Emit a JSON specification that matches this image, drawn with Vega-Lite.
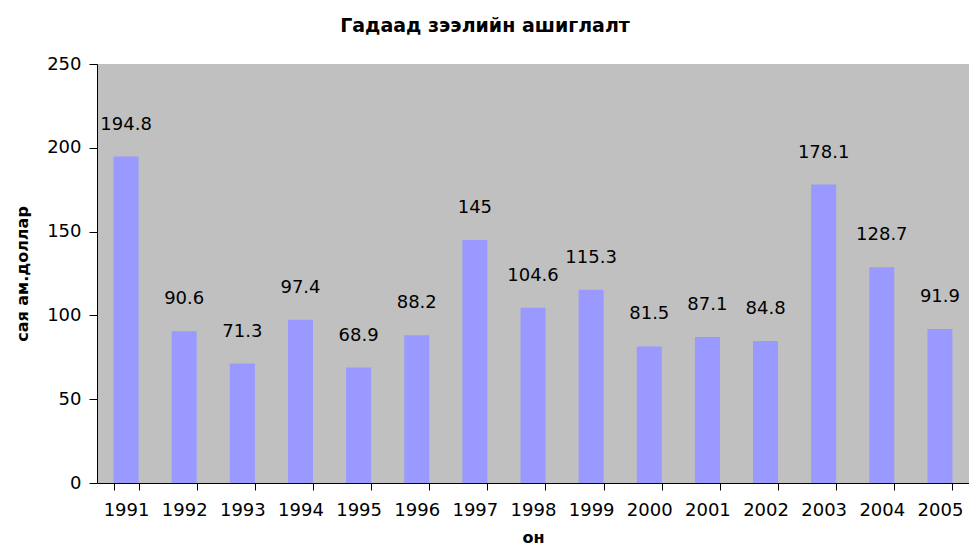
{
  "$schema": "https://vega.github.io/schema/vega-lite/v6.json",
  "autosize": {"type": "none"},
  "padding": {"left": 97, "top": 64, "right": 0, "bottom": 64},
  "width": 872,
  "height": 419,
  "background": "white",
  "config": {
    "view": {"fill": "#C0C0C0", "stroke": null},
    "font": "DejaVu Sans"
  },
  "title": {
    "text": "Гадаад зээлийн ашиглалт",
    "font": "DejaVu Sans",
    "fontSize": 19,
    "fontWeight": "bold",
    "color": "black",
    "anchor": "middle",
    "dx": -48,
    "offset": 19
  },
  "data": {
    "values": [
      {"year": "1991", "value": 194.8},
      {"year": "1992", "value": 90.6},
      {"year": "1993", "value": 71.3},
      {"year": "1994", "value": 97.4},
      {"year": "1995", "value": 68.9},
      {"year": "1996", "value": 88.2},
      {"year": "1997", "value": 145},
      {"year": "1998", "value": 104.6},
      {"year": "1999", "value": 115.3},
      {"year": "2000", "value": 81.5},
      {"year": "2001", "value": 87.1},
      {"year": "2002", "value": 84.8},
      {"year": "2003", "value": 178.1},
      {"year": "2004", "value": 128.7},
      {"year": "2005", "value": 91.9}
    ]
  },
  "encoding": {
    "x": {
      "field": "year",
      "type": "ordinal",
      "scale": {"paddingInner": 0.57, "paddingOuter": 0.285},
      "axis": {
        "title": "он",
        "titleFont": "DejaVu Sans",
        "titleFontSize": 16,
        "titleFontWeight": "bold",
        "titleColor": "black",
        "titlePadding": 10,
        "labelAngle": 0,
        "labelFont": "DejaVu Sans",
        "labelFontSize": 18,
        "labelColor": "black",
        "labelPadding": 11,
        "tickBand": "extent",
        "tickSize": 7,
        "tickColor": "black",
        "domainColor": "black",
        "grid": false
      }
    },
    "y": {
      "field": "value",
      "type": "quantitative",
      "scale": {"domain": [0, 250], "nice": false},
      "axis": {
        "title": "сая ам.доллар",
        "titleFont": "DejaVu Sans",
        "titleFontSize": 16,
        "titleFontWeight": "bold",
        "titleColor": "black",
        "titlePadding": 16,
        "values": [0, 50, 100, 150, 200, 250],
        "labelFont": "DejaVu Sans",
        "labelFontSize": 18,
        "labelColor": "black",
        "labelPadding": 8,
        "tickSize": 8,
        "tickColor": "black",
        "domainColor": "black",
        "grid": false
      }
    }
  },
  "layer": [
    {"mark": {"type": "bar", "color": "#9999FF"}},
    {
      "mark": {"type": "text", "fontSize": 18, "font": "DejaVu Sans", "color": "black", "baseline": "middle", "dy": -32},
      "encoding": {"text": {"field": "value", "type": "quantitative"}}
    }
  ]
}
